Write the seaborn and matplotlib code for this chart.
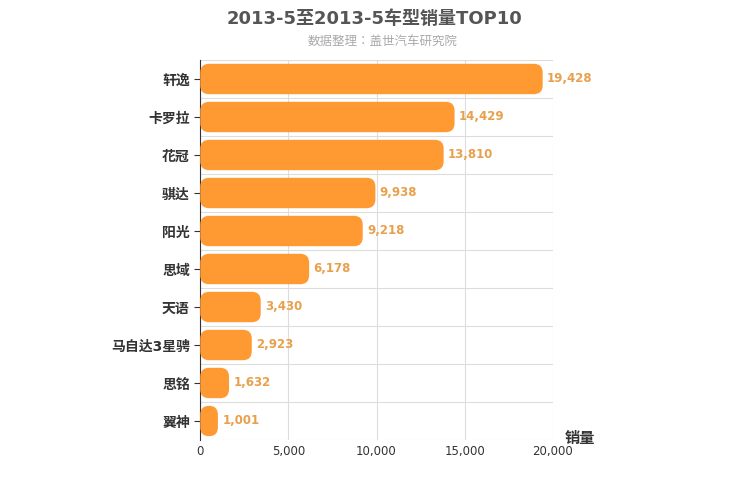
import matplotlib
matplotlib.use("Agg")
import matplotlib.pyplot as plt
from matplotlib.patches import FancyBboxPatch
import pandas as pd
import seaborn as sns

models = ["轩逸", "卡罗拉", "花冠", "骐达", "阳光", "思域", "天语", "马自达3星骋", "思铭", "翼神"]
sales = [19428, 14429, 13810, 9938, 9218, 6178, 3430, 2923, 1632, 1001]
xticks = [0, 5000, 10000, 15000, 20000]

plt.rcParams["font.family"] = ["DejaVu Sans", "Noto Sans CJK JP", "Noto Sans CJK SC",
                               "Noto Sans CJK TC", "Noto Sans CJK KR"]
df = pd.DataFrame({"model": models, "sales": sales})

fig = plt.figure(figsize=(7.5, 5), dpi=100)
ax = fig.add_axes([0.267, 0.12, 0.47, 0.76])
sns.barplot(data=df, x="sales", y="model", orient="h", color="#ff9a33",
            width=0.8, ax=ax, zorder=3)

ax.set_xlim(0, 20000)
ax.set_ylim(len(models) - 0.5, -0.5)
aspect = (len(models) / 380) / (20000 / 353)
for p in list(ax.patches):
    x, y, w, h = p.get_x(), p.get_y(), p.get_width(), p.get_height()
    p.remove()
    ax.add_patch(FancyBboxPatch((x, y), w, h,
                                boxstyle="round,pad=0,rounding_size=500",
                                mutation_aspect=aspect, fc="#ff9a33", ec="none", zorder=3))

for i, v in enumerate(sales):
    ax.text(v + 250, i, f"{v:,}", va="center", ha="left", fontsize=8.5,
            color="#e8a04c", fontweight="bold")

ax.set_xticks(xticks)
ax.set_xticklabels([f"{t:,}" for t in xticks], fontsize=8.5, color="#333")
ax.set_yticks(range(len(models)))
ax.set_yticklabels(models, fontsize=10, color="#333", fontweight="bold")
for i in range(len(models) + 1):
    ax.axhline(i - 0.5, color="#dddddd", lw=0.8, zorder=0)
for t in xticks:
    ax.axvline(t, color="#dddddd", lw=0.8, zorder=0)
for s in ["top", "right", "bottom"]:
    ax.spines[s].set_visible(False)
ax.spines["left"].set_color("#333")
ax.tick_params(axis="y", length=4, color="#333")
ax.tick_params(axis="x", length=0)
ax.set_xlabel("")
ax.set_ylabel("")

fig.text(0.5, 0.962, "2013-5至2013-5车型销量TOP10", ha="center", va="center",
         fontsize=13, fontweight="bold", color="#555555")
fig.text(0.51, 0.918, "数据整理：盖世汽车研究院", ha="center", va="center",
         fontsize=9, color="#aaaaaa")
fig.text(0.753, 0.122, "销量", ha="left", va="center", fontsize=11,
         fontweight="bold", color="#333")

fig.savefig("out.png", dpi=100)
